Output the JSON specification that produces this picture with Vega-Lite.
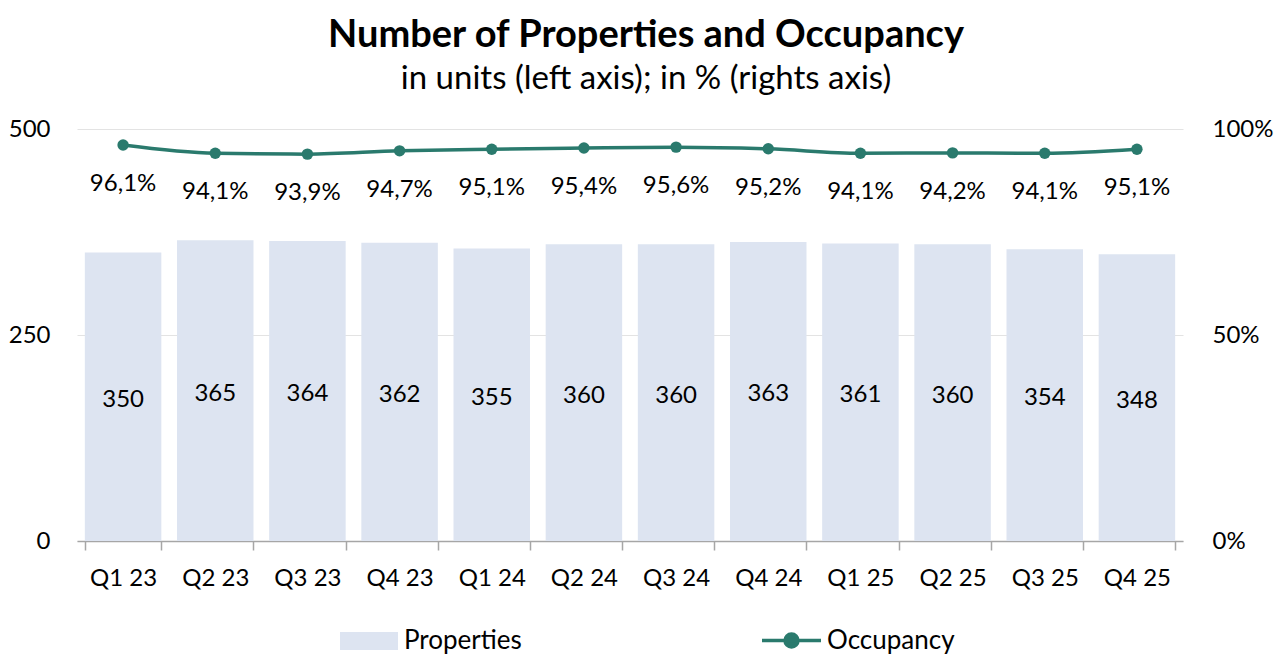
{
  "$schema": "https://vega.github.io/schema/vega-lite/v6.json",
  "width": 1106,
  "height": 412,
  "autosize": {"type": "none"},
  "padding": {"left": 77, "top": 129, "right": 97, "bottom": 124},
  "background": "white",
  "title": {
    "text": "Number of Properties and Occupancy",
    "subtitle": "in units (left axis); in % (rights axis)",
    "anchor": "middle",
    "dx": 16,
    "offset": 21,
    "font": "Lato",
    "fontSize": 38,
    "fontWeight": "bold",
    "color": "#000000",
    "subtitleFont": "Lato",
    "subtitleFontSize": 33,
    "subtitleColor": "#000000",
    "subtitlePadding": 8
  },
  "config": {
    "view": {"stroke": null},
    "font": "Lato",
    "locale": {"number": {"decimal": ",", "thousands": ".", "grouping": [3], "currency": ["", " €"]}}
  },
  "data": {
    "values": [
      {"Quarter": "Q1 23", "Properties": 350, "Occupancy": 0.961},
      {"Quarter": "Q2 23", "Properties": 365, "Occupancy": 0.941},
      {"Quarter": "Q3 23", "Properties": 364, "Occupancy": 0.939},
      {"Quarter": "Q4 23", "Properties": 362, "Occupancy": 0.947},
      {"Quarter": "Q1 24", "Properties": 355, "Occupancy": 0.951},
      {"Quarter": "Q2 24", "Properties": 360, "Occupancy": 0.954},
      {"Quarter": "Q3 24", "Properties": 360, "Occupancy": 0.956},
      {"Quarter": "Q4 24", "Properties": 363, "Occupancy": 0.952},
      {"Quarter": "Q1 25", "Properties": 361, "Occupancy": 0.941},
      {"Quarter": "Q2 25", "Properties": 360, "Occupancy": 0.942},
      {"Quarter": "Q3 25", "Properties": 354, "Occupancy": 0.941},
      {"Quarter": "Q4 25", "Properties": 348, "Occupancy": 0.951}
    ]
  },
  "encoding": {
    "x": {
      "field": "Quarter",
      "type": "nominal",
      "sort": null,
      "title": null,
      "scale": {"paddingInner": 0.17, "paddingOuter": 0.085},
      "axis": {
        "labelAngle": 0,
        "labelFont": "Lato",
        "labelFontSize": 24,
        "labelColor": "#000000",
        "labelPadding": 16,
        "domainColor": "#a6a6a6",
        "domainWidth": 1.5,
        "tickColor": "#a6a6a6",
        "tickWidth": 1.5,
        "tickSize": 9,
        "tickBand": "extent",
        "grid": false
      }
    }
  },
  "layer": [
    {
      "mark": {"type": "bar"},
      "encoding": {
        "y": {
          "field": "Properties",
          "type": "quantitative",
          "title": null,
          "scale": {"domain": [0, 500]},
          "axis": {
            "orient": "left",
            "values": [0, 250, 500],
            "domain": false,
            "ticks": false,
            "labelPadding": 27,
            "labelFont": "Lato",
            "labelFontSize": 24,
            "labelColor": "#000000",
            "grid": true,
            "gridColor": "#e3e3e3",
            "gridWidth": 1.2
          }
        },
        "fill": {
          "datum": "Properties",
          "scale": {"domain": ["Properties"], "range": ["#dde4f1"]},
          "legend": {
            "title": null,
            "orient": "none",
            "legendX": 263,
            "legendY": 483,
            "symbolType": "M-1,-0.31H1V0.31H-1Z",
            "symbolSize": 3364,
            "symbolStrokeWidth": 0,
            "labelFont": "Lato",
            "labelFontSize": 26,
            "labelColor": "#000000",
            "labelOffset": 6
          }
        }
      }
    },
    {
      "mark": {"type": "text", "font": "Lato", "fontSize": 24, "color": "#000000", "baseline": "middle", "dy": 3},
      "encoding": {
        "y": {
          "field": "Properties",
          "type": "quantitative",
          "scale": {"domain": [0, 1000]},
          "axis": null
        },
        "text": {"field": "Properties", "type": "quantitative"}
      }
    },
    {
      "mark": {"type": "line", "strokeWidth": 3.5, "interpolate": "monotone"},
      "encoding": {
        "y": {
          "field": "Occupancy",
          "type": "quantitative",
          "title": null,
          "scale": {"domain": [0, 1]},
          "axis": {
            "orient": "right",
            "values": [0, 0.5, 1],
            "format": ".0%",
            "domain": false,
            "ticks": false,
            "grid": false,
            "labelPadding": 29,
            "labelFont": "Lato",
            "labelFontSize": 24,
            "labelColor": "#000000"
          }
        },
        "stroke": {
          "datum": "Occupancy",
          "scale": {"domain": ["Occupancy"], "range": ["#2a7a6d"]},
          "legend": {
            "title": null,
            "orient": "none",
            "legendX": 683,
            "legendY": 480,
            "symbolType": "M-1,0H1M0.22,0A0.22,0.22,0,1,1,-0.22,0A0.22,0.22,0,1,1,0.22,0Z",
            "symbolSize": 3481,
            "symbolStrokeWidth": 3.5,
            "symbolFillColor": "#2a7a6d",
            "labelFont": "Lato",
            "labelFontSize": 26,
            "labelColor": "#000000",
            "labelOffset": 4
          }
        }
      }
    },
    {
      "mark": {"type": "point", "filled": true, "size": 130, "color": "#2a7a6d", "opacity": 1},
      "encoding": {
        "y": {
          "field": "Occupancy",
          "type": "quantitative",
          "scale": {"domain": [0, 1]},
          "axis": null
        }
      }
    },
    {
      "mark": {"type": "text", "font": "Lato", "fontSize": 24, "color": "#000000", "baseline": "middle", "dy": 39},
      "encoding": {
        "y": {
          "field": "Occupancy",
          "type": "quantitative",
          "scale": {"domain": [0, 1]},
          "axis": null
        },
        "text": {"field": "Occupancy", "type": "quantitative", "format": ".1%"}
      }
    }
  ],
  "resolve": {"scale": {"y": "independent"}}
}
